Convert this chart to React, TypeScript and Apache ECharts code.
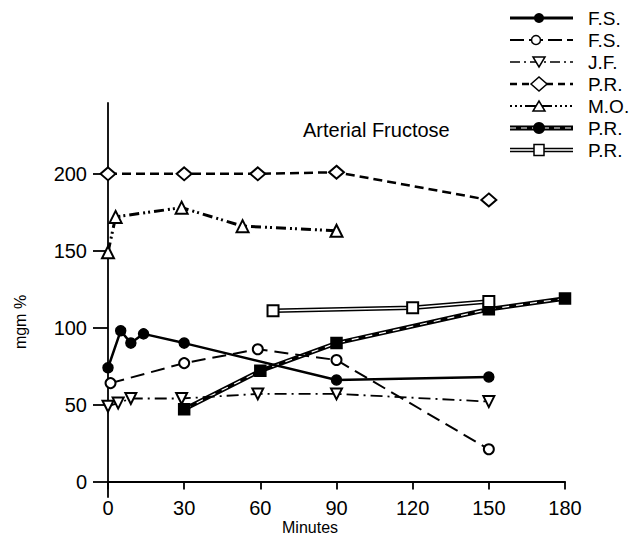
import React, { useEffect, useRef } from "react";
import * as echarts from "echarts";

// ---- data ----
const fsFilledX = [0, 5, 9, 14, 30, 90, 150];
const fsFilledY = [74, 98, 90, 96, 90, 66, 68];
const fsOpenX = [1, 30, 59, 90, 150];
const fsOpenY = [64, 77, 86, 79, 21];
const jfX = [0, 4, 9, 29, 59, 90, 150];
const jfY = [49, 51, 54, 54, 57, 57, 52];
const prDiamondX = [0, 30, 59, 90, 150];
const prDiamondY = [200, 200, 200, 201, 183];
const moX = [0, 3, 29, 53, 90];
const moY = [149, 172, 178, 166, 163];
const prFilledX = [30, 60, 90, 150, 180];
const prFilledY = [47, 72, 90, 112, 119];
const prOpenX = [65, 120, 150];
const prOpenY = [111, 113, 117];

const yTickValues = [0, 50, 100, 150, 200];
const legendLabels = ["F.S.", "F.S.", "J.F.", "P.R.", "M.O.", "P.R.", "P.R."];
const legendKinds = ["fsFilled", "fsOpen", "jf", "prDiamond", "mo", "prFilled", "prOpen"];
const titleText = "Arterial Fructose";
const yAxisTitle = "mgm %";
const xAxisTitle = "Minutes";

const FONT = "'Liberation Sans', Arial, sans-serif";
const BLACK = "#000";

const pairs = (xs: number[], ys: number[]) => xs.map((x, i) => [x, ys[i]]);

function legendRow(kind: string, y: number): any[] {
  const x1 = 510, x2 = 573, m = 539;
  const line = (style: any) => ({
    type: "line",
    shape: { x1, y1: y, x2, y2: y },
    style: { stroke: BLACK, ...style },
    z: 10,
  });
  const els: any[] = [];
  switch (kind) {
    case "fsFilled":
      els.push(line({ lineWidth: 3 }));
      els.push({ type: "circle", shape: { cx: m, cy: y, r: 5 }, style: { fill: BLACK }, z: 11 });
      break;
    case "fsOpen":
      els.push(line({ lineWidth: 2, lineDash: [14, 5] }));
      els.push({ type: "circle", shape: { cx: m - 3, cy: y, r: 4.5 }, style: { fill: "#fff", stroke: BLACK, lineWidth: 1.5 }, z: 11 });
      break;
    case "jf":
      els.push(line({ lineWidth: 1.6, lineDash: [10, 4, 2, 4] }));
      els.push({ type: "polygon", shape: { points: [[m - 6, y - 5], [m + 6, y - 5], [m, y + 5]] }, style: { fill: "#fff", stroke: BLACK, lineWidth: 1.5 }, z: 11 });
      break;
    case "prDiamond":
      els.push(line({ lineWidth: 2.5, lineDash: [7, 5] }));
      els.push({ type: "polygon", shape: { points: [[m - 8, y], [m, y - 7], [m + 8, y], [m, y + 7]] }, style: { fill: "#fff", stroke: BLACK, lineWidth: 1.5 }, z: 11 });
      break;
    case "mo":
      els.push(line({ lineWidth: 1.8, lineDash: [2, 3] }));
      els.push({ type: "line", shape: { x1: m - 12, y1: y, x2: m + 12, y2: y }, style: { stroke: BLACK, lineWidth: 2 }, z: 10 });
      els.push({ type: "polygon", shape: { points: [[m - 6, y + 5], [m + 6, y + 5], [m, y - 5]] }, style: { fill: "#fff", stroke: BLACK, lineWidth: 1.5 }, z: 11 });
      break;
    case "prFilled":
      els.push(line({ lineWidth: 5 }));
      els.push(line({ stroke: "#fff", lineWidth: 1.2, lineDash: [6, 5] }));
      els.push({ type: "circle", shape: { cx: m, cy: y, r: 6 }, style: { fill: BLACK }, z: 11 });
      break;
    case "prOpen":
      els.push(line({ lineWidth: 4.5 }));
      els.push({ type: "line", shape: { x1, y1: y, x2, y2: y }, style: { stroke: "#fff", lineWidth: 1.6 }, z: 10.5 });
      els.push({ type: "rect", shape: { x: m - 5, y: y - 5.5, width: 10, height: 11 }, style: { fill: "#fff", stroke: BLACK, lineWidth: 1.5 }, z: 11 });
      break;
  }
  return els;
}

export default function App() {
  const ref = useRef<HTMLDivElement>(null);
  useEffect(() => {
    if (!ref.current) return;
    const chart = echarts.init(ref.current, undefined, { renderer: "svg" });

    const rowsY = [18, 40, 62, 84, 106, 128, 150];
    const graphic: any[] = [];
    legendKinds.forEach((k, i) => {
      graphic.push(...legendRow(k, rowsY[i]));
      graphic.push({
        type: "text",
        x: 588,
        y: rowsY[i],
        style: { text: legendLabels[i], fontSize: 19, fontFamily: FONT, fill: BLACK, verticalAlign: "middle" },
        z: 11,
      });
    });
    graphic.push({
      type: "text",
      x: 303,
      y: 130,
      style: { text: titleText, fontSize: 20, fontFamily: FONT, fill: BLACK, verticalAlign: "middle" },
    });
    graphic.push({
      type: "text",
      x: 20,
      y: 322,
      rotation: Math.PI / 2,
      style: { text: yAxisTitle, fontSize: 16, fontFamily: FONT, fill: BLACK, align: "center", verticalAlign: "middle" },
    });
    graphic.push({
      type: "text",
      x: 282,
      y: 527,
      style: { text: xAxisTitle, fontSize: 16, fontFamily: FONT, fill: BLACK, verticalAlign: "middle" },
    });

    const sym = { color: BLACK, borderColor: BLACK, borderWidth: 1.5 };

    chart.setOption({
      animation: false,
      backgroundColor: "#fff",
      grid: { left: 108, right: 64, top: 103, bottom: 39, containLabel: false },
      xAxis: {
        type: "value",
        min: 0,
        max: 180,
        interval: 30,
        splitLine: { show: false },
        axisLine: { onZero: true, lineStyle: { color: BLACK, width: 1.8 } },
        axisTick: { length: 8, lineStyle: { color: BLACK, width: 1.8 } },
        axisLabel: { fontSize: 20, fontFamily: FONT, color: BLACK, margin: 1, lineHeight: 20 },
      },
      yAxis: {
        type: "value",
        min: -10,
        max: 246,
        splitLine: { show: false },
        axisLine: { show: true, lineStyle: { color: BLACK, width: 1.8 } },
        axisTick: { show: true, length: 15, customValues: yTickValues, lineStyle: { color: BLACK, width: 1.8 } },
        axisLabel: { fontSize: 20, fontFamily: FONT, color: BLACK, margin: 21, customValues: yTickValues },
      },
      graphic,
      series: [
        {
          name: "F.S.", type: "line", data: pairs(fsFilledX, fsFilledY),
          symbol: "circle", symbolSize: 10, itemStyle: sym,
          lineStyle: { color: BLACK, width: 2.5 }, z: 3,
        },
        {
          name: "F.S. open", type: "line", data: pairs(fsOpenX, fsOpenY),
          symbol: "emptyCircle", symbolSize: 10, itemStyle: sym,
          lineStyle: { color: BLACK, width: 2, type: [14, 7] }, z: 3,
        },
        {
          name: "J.F.", type: "line", data: pairs(jfX, jfY),
          symbol: "emptyTriangle", symbolRotate: 180, symbolSize: 11, itemStyle: sym,
          lineStyle: { color: BLACK, width: 1.8, type: [12, 5, 2, 5] }, z: 3,
        },
        {
          name: "P.R. diamond", type: "line", data: pairs(prDiamondX, prDiamondY),
          symbol: "emptyDiamond", symbolSize: [15, 13], itemStyle: sym,
          lineStyle: { color: BLACK, width: 2.5, type: [9, 5] }, z: 3,
        },
        {
          name: "M.O.", type: "line", data: pairs(moX, moY),
          symbol: "emptyTriangle", symbolSize: 12, itemStyle: sym,
          lineStyle: { color: BLACK, width: 3, type: [10, 4, 2, 3, 2, 4] }, z: 3,
        },
        {
          name: "P.R. filled line", type: "line", data: pairs(prFilledX, prFilledY),
          symbol: "none", lineStyle: { color: BLACK, width: 4.5 }, z: 2,
        },
        {
          name: "P.R. filled dash", type: "line", data: pairs(prFilledX, prFilledY),
          symbol: "none", lineStyle: { color: "#fff", width: 1.2, type: [7, 7] }, z: 2.5,
        },
        {
          name: "P.R. open line", type: "line", data: pairs(prOpenX, prOpenY),
          symbol: "none", lineStyle: { color: BLACK, width: 4.5 }, z: 2,
        },
        {
          name: "P.R. open inner", type: "line", data: pairs(prOpenX, prOpenY),
          symbol: "none", lineStyle: { color: "#fff", width: 1.6 }, z: 2.5,
        },
        {
          name: "P.R. filled", type: "line", data: pairs(prFilledX, prFilledY),
          symbol: "rect", symbolSize: 11, itemStyle: sym,
          lineStyle: { width: 0, opacity: 0 }, z: 4,
        },
        {
          name: "P.R. open", type: "line", data: pairs(prOpenX, prOpenY),
          symbol: "emptyRect", symbolSize: 11, itemStyle: sym,
          lineStyle: { width: 0, opacity: 0 }, z: 4,
        },
      ],
    });
    return () => chart.dispose();
  }, []);
  return <div ref={ref} style={{ width: 629, height: 536, position: "absolute", left: 0, top: 0 }} />;
}
